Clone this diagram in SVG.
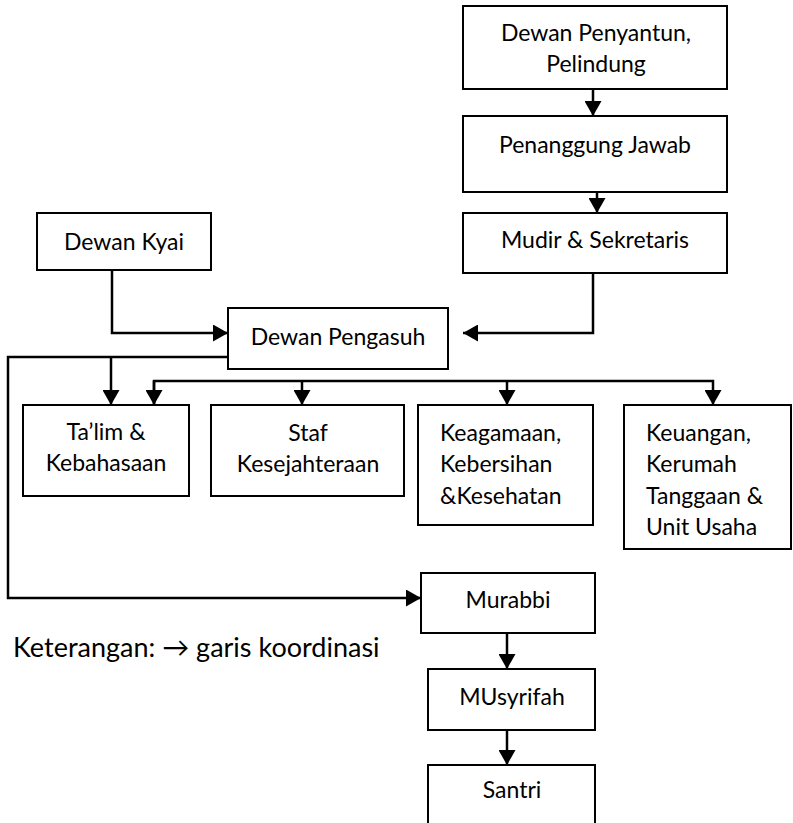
<svg xmlns="http://www.w3.org/2000/svg" width="793" height="823" viewBox="0 0 793 823">
<style>
.box{fill:#fff;stroke:#000;stroke-width:2}
.t{font-family:Lato,"Open Sans","Liberation Sans",sans-serif;font-size:23px;fill:#000}
.c{text-anchor:middle}
.ln{fill:none;stroke:#000;stroke-width:2.5}
</style>
<defs>
<marker id="ah" markerUnits="userSpaceOnUse" markerWidth="16" markerHeight="17" refX="15" refY="8.5" orient="auto">
<path d="M0,0 L15,8.5 L0,17 z" fill="#000"/>
</marker>
</defs>
<rect width="793" height="823" fill="#fff"/>
<g id="connectors">
<path class="ln" d="M593,89 V116" marker-end="url(#ah)"/>
<path class="ln" d="M597,192 V213" marker-end="url(#ah)"/>
<path class="ln" d="M593,273 V333 H463" marker-end="url(#ah)"/>
<path class="ln" d="M112,270 V333 H228" marker-end="url(#ah)"/>
<path class="ln" d="M228,357 H8 V598 H421" marker-end="url(#ah)"/>
<path class="ln" d="M111,357 V405" marker-end="url(#ah)"/>
<path class="ln" d="M154,405 V381 H713 V405" marker-end="url(#ah)"/>
<path class="ln" d="M154,381 V405" marker-end="url(#ah)"/>
<path class="ln" d="M302,381 V405" marker-end="url(#ah)"/>
<path class="ln" d="M507,381 V405" marker-end="url(#ah)"/>
<path class="ln" d="M507,633 V669" marker-end="url(#ah)"/>
<path class="ln" d="M507,730 V765" marker-end="url(#ah)"/>
</g>
<g id="dewan-penyantun"><rect class="box" x="463" y="6" width="264" height="83"/><text class="t c" x="596" y="41">Dewan Penyantun,</text><text class="t c" x="596" y="72">Pelindung</text></g>
<g id="penanggung-jawab"><rect class="box" x="463" y="116" width="264" height="76"/><text class="t c" x="595" y="153">Penanggung Jawab</text></g>
<g id="mudir"><rect class="box" x="463" y="213" width="264" height="60"/><text class="t c" x="595" y="248">Mudir &amp; Sekretaris</text></g>
<g id="dewan-kyai"><rect class="box" x="37" y="213" width="174" height="57"/><text class="t c" x="124" y="250">Dewan Kyai</text></g>
<g id="dewan-pengasuh"><rect class="box" x="228" y="308" width="220" height="61"/><text class="t c" x="338" y="345">Dewan Pengasuh</text></g>
<g id="talim"><rect class="box" x="23" y="405" width="166" height="91"/><text class="t c" x="106" y="440">Ta’lim &amp;</text><text class="t c" x="106" y="471">Kebahasaan</text></g>
<g id="staf"><rect class="box" x="211" y="405" width="193" height="91"/><text class="t c" x="308" y="441">Staf</text><text class="t c" x="308" y="472">Kesejahteraan</text></g>
<g id="keagamaan"><rect class="box" x="418" y="405" width="175" height="120"/><text class="t" x="440" y="441">Keagamaan,</text><text class="t" x="440" y="472">Kebersihan</text><text class="t" x="440" y="504">&amp;Kesehatan</text></g>
<g id="keuangan"><rect class="box" x="624" y="405" width="167" height="144"/><text class="t" x="646" y="441">Keuangan,</text><text class="t" x="646" y="472">Kerumah</text><text class="t" x="646" y="504">Tanggaan &amp;</text><text class="t" x="646" y="535">Unit Usaha</text></g>
<g id="murabbi"><rect class="box" x="421" y="573" width="174" height="60"/><text class="t c" x="508" y="608">Murabbi</text></g>
<g id="musyrifah"><rect class="box" x="428" y="669" width="167" height="61"/><text class="t c" x="512" y="705">MUsyrifah</text></g>
<g id="santri"><rect class="box" x="428" y="765" width="167" height="70"/><text class="t c" x="512" y="798">Santri</text></g>
<text class="t" x="13" y="657" style="font-size:27px">Keterangan: → garis koordinasi</text>
</svg>
